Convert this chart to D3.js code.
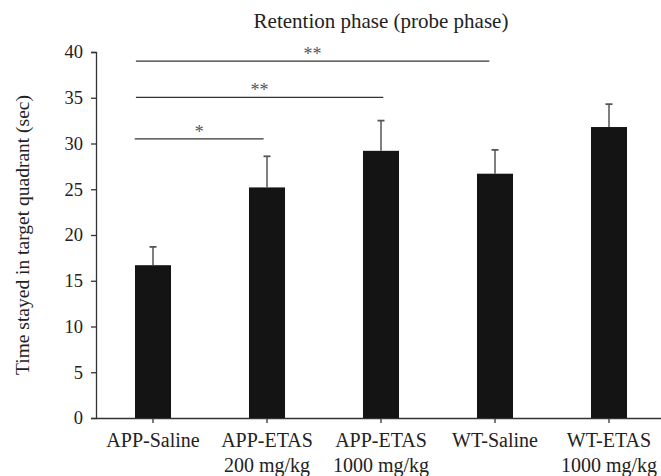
<!DOCTYPE html>
<html>
<head>
<meta charset="utf-8">
<script src="https://cdn.jsdelivr.net/npm/d3@7"></script>
<style>
  body { margin: 0; background: #fff; }
  svg text { font-family: 'Liberation Serif', 'Times New Roman', serif; fill: #222; }
</style>
</head>
<body>
<div id="chart"></div>
<script>
// data
const groups = ['APP-Saline', 'APP-ETAS|200 mg/kg', 'APP-ETAS|1000 mg/kg', 'WT-Saline', 'WT-ETAS|1000 mg/kg']
const means = [16.7, 25.2, 29.2, 26.7, 31.8]
const upperErr = [18.7, 28.6, 32.5, 29.3, 34.3]
const yTicks = [0, 5, 10, 15, 20, 25, 30, 35, 40]

// significance brackets, ends given in group-index units
const sigFrom = [-0.16, -0.15, -0.15]
const sigTo = [0.97, 2.02, 2.95]
const sigLevel = [30.5, 35.05, 39.0]
const sigLabel = ['*', '**', '**']

var width = 661,
    height = 476,
    margin = {top: 52, right: -5, bottom: 58, left: 96};

var svg = d3.select('#chart')
    .append('svg')
        .attr('width', width)
        .attr('height', height)

// scales
var x = d3.scaleBand()
    .domain(groups)
    .range([margin.left, width - margin.right])
    .paddingInner(0.684)
    .paddingOuter(0.342);

var xi = d3.scaleLinear()
    .domain([0, 1])
    .range([x(groups[0]) + x.bandwidth() / 2, x(groups[1]) + x.bandwidth() / 2]);

var y = d3.scaleLinear()
    .domain([0, 40])
    .range([height - margin.bottom, margin.top]);

// y axis
var yAxis = svg.append('g')
    .attr('transform', 'translate(' + margin.left + ',0)')
    .call(d3.axisLeft(y).tickValues(yTicks).tickSize(5).tickPadding(8));
yAxis.selectAll('text').style('font-size', '18.5px').style('fill', '#222')

// x axis
var xAxis = svg.append('g')
    .attr('transform', 'translate(0,' + (height - margin.bottom) + ')')
    .call(d3.axisBottom(x).tickSize(5).tickSizeOuter(0).tickFormat(''));

xAxis.selectAll('.tick').each(function(d){
    var lines = d.split('|')
    var t = d3.select(this).append('text')
        .attr('text-anchor', 'middle')
        .style('font-size', '20px')
        .style('fill', '#222')
    lines.forEach(function(l, i){
        t.append('tspan')
            .attr('x', 0)
            .attr('y', 29 + i * 25)
            .text(l)
    })
})

svg.selectAll('.domain, .tick line')
    .style('stroke', '#333')
    .style('stroke-width', 1.3)

// bars
var data = groups.map((g, i) => ({g: g, mean: means[i], hi: upperErr[i]}))

svg.append('g')
    .selectAll('rect')
    .data(data)
    .join('rect')
    .attr('x', d => x(d.g))
    .attr('width', x.bandwidth())
    .attr('y', d => y(d.mean))
    .attr('height', d => y(0) - y(d.mean))
    .style('fill', '#141414')

// error bars (upper only)
var err = svg.append('g')
    .selectAll('g')
    .data(data)
    .join('g')
    .attr('transform', d => 'translate(' + (x(d.g) + x.bandwidth() / 2) + ',0)')
err.append('line')
    .attr('y1', d => y(d.mean))
    .attr('y2', d => y(d.hi))
    .style('stroke', '#555')
    .style('stroke-width', 1.5)
err.append('line')
    .attr('x1', -3.5)
    .attr('x2', 3.5)
    .attr('y1', d => y(d.hi))
    .attr('y2', d => y(d.hi))
    .style('stroke', '#555')
    .style('stroke-width', 1.8)

// significance lines
var sig = sigLevel.map((v, i) => ({from: sigFrom[i], to: sigTo[i], v: v, label: sigLabel[i]}))
var sg = svg.append('g')
sg.selectAll('line')
    .data(sig)
    .join('line')
    .attr('x1', d => xi(d.from))
    .attr('x2', d => xi(d.to))
    .attr('y1', d => y(d.v))
    .attr('y2', d => y(d.v))
    .style('stroke', '#333')
    .style('stroke-width', 1.3)
sg.selectAll('text')
    .data(sig)
    .join('text')
    .attr('x', d => (xi(d.from) + xi(d.to)) / 2)
    .attr('y', d => y(d.v) - 1)
    .attr('text-anchor', 'middle')
    .style('font-size', '18px')
    .style('fill', '#555')
    .text(d => d.label)

// title, centred over the plot range
svg.append('text')
    .attr('x', (x.range()[0] + x.range()[1]) / 2)
    .attr('y', 28)
    .attr('text-anchor', 'middle')
    .style('font-size', '21px')
    .text('Retention phase (probe phase)')

// y axis title
svg.append('text')
    .attr('transform', 'translate(29,' + ((height - margin.bottom + margin.top) / 2) + ') rotate(-90)')
    .attr('text-anchor', 'middle')
    .style('font-size', '19.5px')
    .text('Time stayed in target quadrant (sec)')
</script>
</body>
</html>
